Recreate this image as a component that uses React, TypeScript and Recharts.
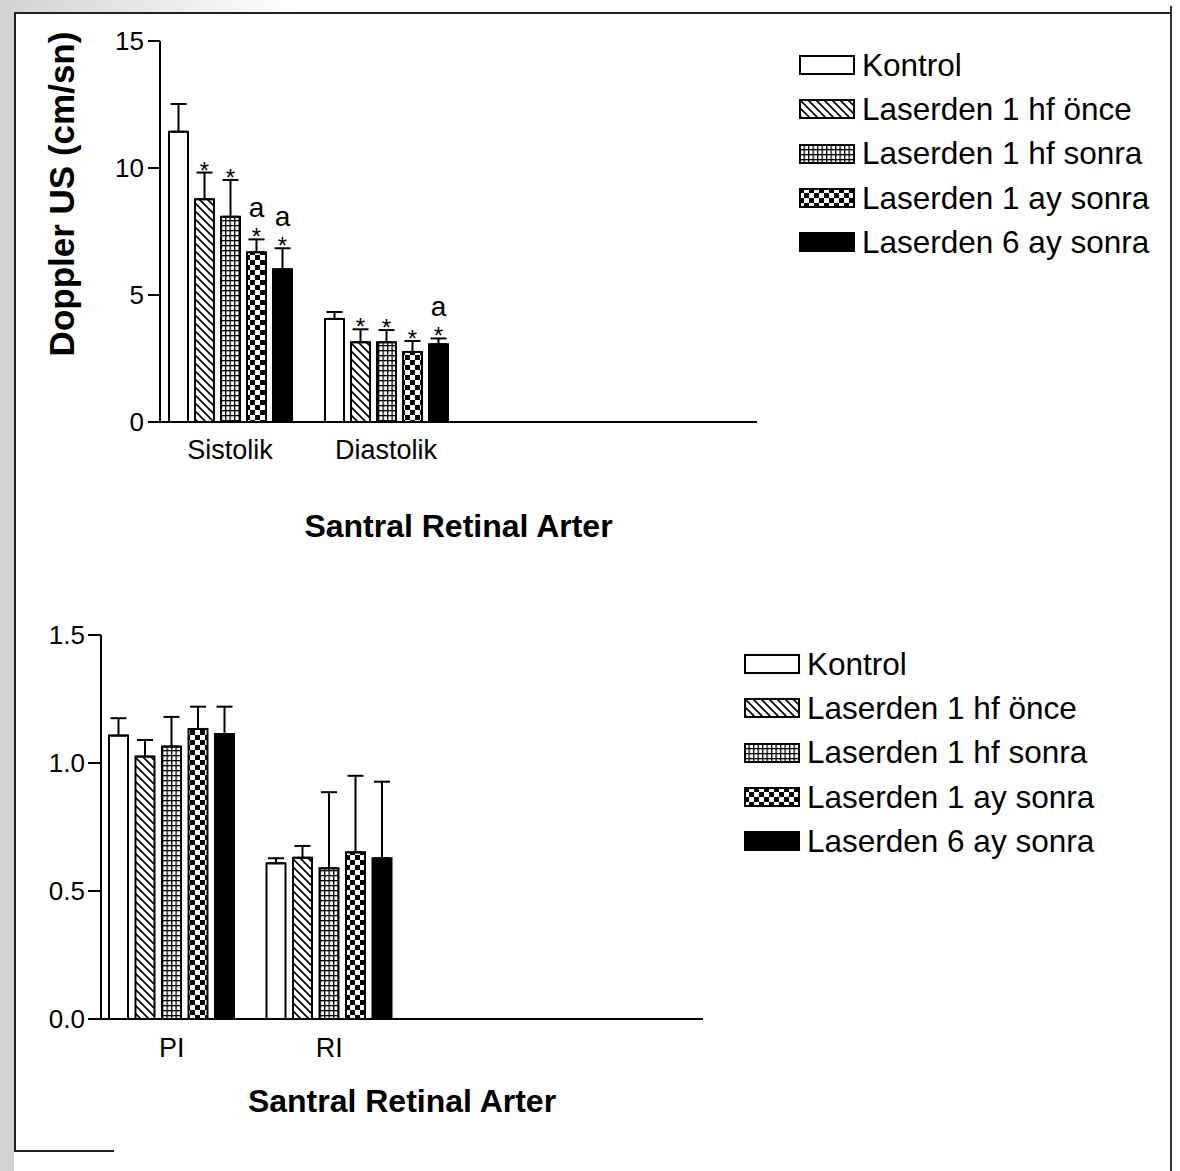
import React from 'react'
import { BarChart, Bar, XAxis, YAxis, ErrorBar, LabelList, Legend, Label } from 'recharts'

const seriesNames = ['Kontrol', 'Laserden 1 hf önce', 'Laserden 1 hf sonra', 'Laserden 1 ay sonra', 'Laserden 6 ay sonra']

// top panel: velocities (cm/sn)
const topCategories = ['Sistolik', 'Diastolik']
const topKontrol = [11.43, 4.06]
const topHfOnce = [8.77, 3.14]
const topHfSonra = [8.08, 3.14]
const topAy1 = [6.68, 2.76]
const topAy6 = [6.01, 3.06]
const topErrKontrol = [1.09, 0.27]
const topErrHfOnce = [1.05, 0.51]
const topErrHfSonra = [1.45, 0.48]
const topErrAy1 = [0.51, 0.43]
const topErrAy6 = [0.83, 0.23]
// '*' = significant vs kontrol, 'a' = second mark above
const topMarks = [['', ''], ['*', '*'], ['*', '*'], ['a*', '*'], ['a*', 'a*']]
const topTicks = [0, 5, 10, 15]

// bottom panel: indices
const bottomCategories = ['PI', 'RI']
const bottomKontrol = [1.107, 0.608]
const bottomHfOnce = [1.025, 0.63]
const bottomHfSonra = [1.064, 0.589]
const bottomAy1 = [1.133, 0.651]
const bottomAy6 = [1.113, 0.628]
const bottomErrKontrol = [0.068, 0.02]
const bottomErrHfOnce = [0.065, 0.046]
const bottomErrHfSonra = [0.116, 0.297]
const bottomErrAy1 = [0.087, 0.299]
const bottomErrAy6 = [0.107, 0.299]
const bottomTicks = [0, 0.5, 1.0, 1.5]

const topValues = [topKontrol, topHfOnce, topHfSonra, topAy1, topAy6]
const topErrors = [topErrKontrol, topErrHfOnce, topErrHfSonra, topErrAy1, topErrAy6]
const bottomValues = [bottomKontrol, bottomHfOnce, bottomHfSonra, bottomAy1, bottomAy6]
const bottomErrors = [bottomErrKontrol, bottomErrHfOnce, bottomErrHfSonra, bottomErrAy1, bottomErrAy6]

const buildRows = (cats: string[], values: number[][], errors: number[][], marks?: string[][]) =>
  cats.map((name, i) => {
    const row: any = { name }
    values.forEach((v, s) => {
      row['v' + s] = v[i]
      row['e' + s] = [0, errors[s][i]]
      row['m' + s] = marks ? marks[s][i] : ''
    })
    return row
  })

const topData = buildRows(topCategories, topValues, topErrors, topMarks)
const bottomData = buildRows(bottomCategories, bottomValues, bottomErrors)

const FONT = '"Liberation Sans", Arial, Helvetica, sans-serif'

const fillFor = (p: string, s: number) =>
  s === 0 ? '#fff' : s === 4 ? '#000' : `url(#${p}-pat${s})`

const Patterns = ({ p }: { p: string }) => (
  <defs>
    <pattern id={`${p}-pat1`} patternUnits="userSpaceOnUse" width={8} height={8}>
      <rect width={8} height={8} fill="#fff" />
      <path d="M0,0 L8,8 M-1,7 L1,9 M7,-1 L9,1" stroke="#000" strokeWidth={1.6} />
    </pattern>
    <pattern id={`${p}-pat2`} patternUnits="userSpaceOnUse" width={4.5} height={5}>
      <rect width={4.5} height={5} fill="#fff" />
      <rect width={1.3} height={5} fill="#000" />
      <rect width={4.5} height={1.3} fill="#000" />
    </pattern>
    <pattern id={`${p}-pat3`} patternUnits="userSpaceOnUse" width={10} height={10}>
      <rect width={10} height={10} fill="#fff" />
      <rect width={5} height={5} fill="#000" />
      <rect x={5} y={5} width={5} height={5} fill="#000" />
    </pattern>
  </defs>
)

// '*' sits on the error cap, 'a' stacked above it
const markLabel = (vals: number[], errs: number[]) => (props: any) => {
  const { x, y, width, height, value, index } = props
  if (!value) return null
  const v = vals[index]
  const top = Number(y) - errs[index] * (Number(height) / v)
  const cx = Number(x) + Number(width) / 2
  const hasA = String(value).includes('a')
  return (
    <g>
      {hasA && <text x={cx} y={top - 22} textAnchor="middle" fontSize={28} fill="#000" fontFamily={FONT}>a</text>}
      <text x={cx} y={top + 6} textAnchor="middle" fontSize={24} fill="#000" fontFamily={FONT}>*</text>
    </g>
  )
}

const legendContent = (p: string, gap: number) => () => (
  <div style={{ fontFamily: FONT }}>
    {seriesNames.map((n, s) => (
      <div key={n} style={{ display: 'flex', alignItems: 'center', height: 44.3 }}>
        <svg width={56} height={20} style={{ flex: 'none' }}>
          <rect x={1} y={1} width={54} height={18} fill={fillFor(p, s)} stroke="#000" strokeWidth={2} />
        </svg>
        <span style={{ marginLeft: gap, fontSize: 31.5, color: '#000', whiteSpace: 'nowrap' }}>{n}</span>
      </div>
    ))}
  </div>
)

const axisStyle = { stroke: '#000', strokeWidth: 2 }

const App = () => {
  return (
    <div style={{ position: 'absolute', left: 0, top: 0, width: 1180, height: 1171, background: '#fff', overflow: 'hidden', fontFamily: FONT }}>
      {/* scanned page edge */}
      <div style={{ position: 'absolute', left: 0, top: 0, width: 14, height: 1171, background: '#d2d2d2' }} />
      <div style={{ position: 'absolute', left: 0, top: 0, width: 300, height: 12, background: 'linear-gradient(to right, #d2d2d2, #fff)' }} />
      <div style={{ position: 'absolute', left: 14, top: 12, width: 1158, height: 2, background: '#222' }} />
      <div style={{ position: 'absolute', left: 14, top: 12, width: 2, height: 1140, background: '#222' }} />
      <div style={{ position: 'absolute', left: 1170, top: 6, width: 1.5, height: 1165, background: '#333' }} />
      <div style={{ position: 'absolute', left: 14, top: 1150, width: 100, height: 2, background: '#222' }} />

      <div style={{ position: 'absolute', left: 0, top: 0 }}>
        <BarChart width={1180} height={560} data={topData} margin={{ top: 41, right: 423, left: 0, bottom: 98 }} barSize={19} barGap={7}>
          <Patterns p="t" />
          <XAxis
            dataKey="name"
            axisLine={axisStyle}
            tickLine={false}
            tickSize={0}
            tickMargin={18}
            interval={0}
            height={40}
            padding={{ left: -8, right: 293 }}
            tick={{ fill: '#000', fontSize: 27 }}
          >
            <Label value="Santral Retinal Arter" position="bottom" offset={52} style={{ fontWeight: 'bold', fontSize: 32, fill: '#000' }} />
          </XAxis>
          <YAxis
            domain={[0, 15]}
            ticks={topTicks}
            width={160}
            axisLine={axisStyle}
            tickLine={axisStyle}
            tickSize={12}
            tickMargin={4}
            tick={{ fill: '#000', fontSize: 26 }}
          >
            <Label
              content={() => (
                <text x={61} y={194} transform="rotate(-90 61 194)" textAnchor="middle" dominantBaseline="central" fontSize={35} fontWeight="bold" fill="#000" fontFamily={FONT}>
                  Doppler US (cm/sn)
                </text>
              )}
            />
          </YAxis>
          <Legend layout="vertical" align="center" verticalAlign="middle" wrapperStyle={{ left: 799, top: 43, width: 380 }} content={legendContent('t', 7)} />
          {seriesNames.map((n, s) => (
            <Bar key={n} dataKey={'v' + s} name={n} fill={fillFor('t', s)} stroke="#000" strokeWidth={2} isAnimationActive={false}>
              <ErrorBar dataKey={'e' + s} width={8} stroke="#000" strokeWidth={2} isAnimationActive={false} />
              <LabelList dataKey={'m' + s} content={markLabel(topValues[s], topErrors[s])} />
            </Bar>
          ))}
        </BarChart>
      </div>

      <div style={{ position: 'absolute', left: 0, top: 590 }}>
        <BarChart width={1180} height={540} data={bottomData} margin={{ top: 45, right: 477, left: 0, bottom: 71 }} barSize={19} barGap={7.5}>
          <Patterns p="b" />
          <XAxis
            dataKey="name"
            axisLine={axisStyle}
            tickLine={false}
            tickSize={0}
            tickMargin={19}
            interval={0}
            height={40}
            padding={{ left: -8, right: 295 }}
            tick={{ fill: '#000', fontSize: 27 }}
          >
            <Label value="Santral Retinal Arter" position="bottom" offset={30} style={{ fontWeight: 'bold', fontSize: 32, fill: '#000' }} />
          </XAxis>
          <YAxis
            domain={[0, 1.5]}
            ticks={bottomTicks}
            width={101}
            axisLine={axisStyle}
            tickLine={axisStyle}
            tickSize={13}
            tickMargin={3}
            tickFormatter={(v: number) => v.toFixed(1)}
            tick={{ fill: '#000', fontSize: 26 }}
          />
          <Legend layout="vertical" align="center" verticalAlign="middle" wrapperStyle={{ left: 744, top: 52, width: 420 }} content={legendContent('b', 7)} />
          {seriesNames.map((n, s) => (
            <Bar key={n} dataKey={'v' + s} name={n} fill={fillFor('b', s)} stroke="#000" strokeWidth={2} isAnimationActive={false}>
              <ErrorBar dataKey={'e' + s} width={8} stroke="#000" strokeWidth={2} isAnimationActive={false} />
            </Bar>
          ))}
        </BarChart>
      </div>
    </div>
  )
}

export default App
